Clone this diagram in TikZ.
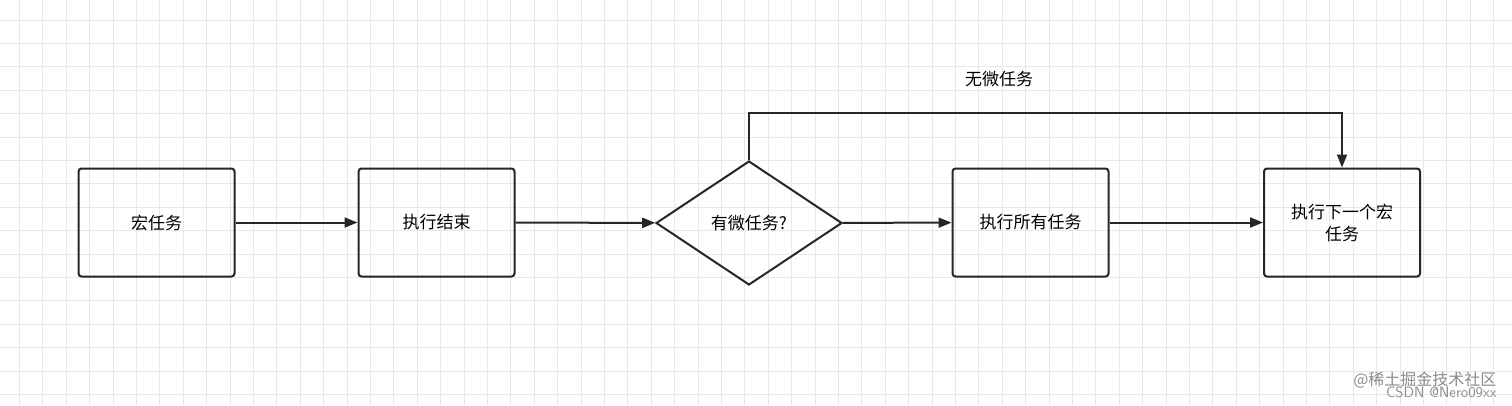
\documentclass[tikz,border=0pt]{standalone}
\usepackage{fontspec}
\newfontfamily\cjk{Noto Sans CJK SC}
\usetikzlibrary{arrows.meta,shapes.geometric}
\begin{document}
\begin{tikzpicture}[x=1pt,y=-1pt,
  box/.style={draw=black!85,line width=2pt,rounded corners=3pt,minimum width=156pt,minimum height=108pt,align=center,font=\cjk\fontsize{17}{22}\selectfont,text width=130pt},
  dia/.style={draw=black!85,line width=2pt,diamond,aspect=1.5,minimum width=186pt,minimum height=124pt,inner sep=0pt,font=\cjk\fontsize{17}{22}\selectfont},
  conn/.style={line width=2pt,draw=black!85,-{Triangle[length=13pt,width=10pt]}}]
\fill[white] (0,0) rectangle (1512,405);
\begin{scope}
\clip (0,0) rectangle (1512,405);
\foreach \i in {0,...,64} \draw[black!9,line width=1pt] (19.5+\i*23.4,0) -- (19.5+\i*23.4,405);
\foreach \i in {0,...,17} \draw[black!9,line width=1pt] (0,20+\i*23.4) -- (1512,20+\i*23.4);
\end{scope}
\useasboundingbox (0,0) rectangle (1512,405);
\node[box] (a) at (156.5,222.5) {宏任务};
\node[box] (b) at (436.5,222.5) {执行结束};
\node[dia] (c) at (749,223) {有微任务?};
\node[box] (d) at (1030.5,222.5) {执行所有任务};
\node[box] (e) at (1342,222.5) {执行下一个宏\\任务};
\draw[conn] (a) -- (b);
\draw[conn] (b) -- (c);
\draw[conn] (c) -- (d);
\draw[conn] (d) -- (e);
\coordinate (t1) at (749,113);
\coordinate (t2) at (1342,113);
\draw[conn] (c.north) -- (t1) -- (t2) -- (e.north);
\node[font=\cjk\fontsize{17}{22}\selectfont] (lab) at (999,79) {无微任务};
\node[font=\cjk\fontsize{16}{20}\selectfont,text=black!45,anchor=east] (w1) at (1500,380) {@稀土掘金技术社区};
\node[font=\fontsize{15}{18}\selectfont\sffamily,text=black!45,anchor=east] (w2) at (1500,392) {CSDN @Nero09xx};
\end{tikzpicture}
\end{document}
